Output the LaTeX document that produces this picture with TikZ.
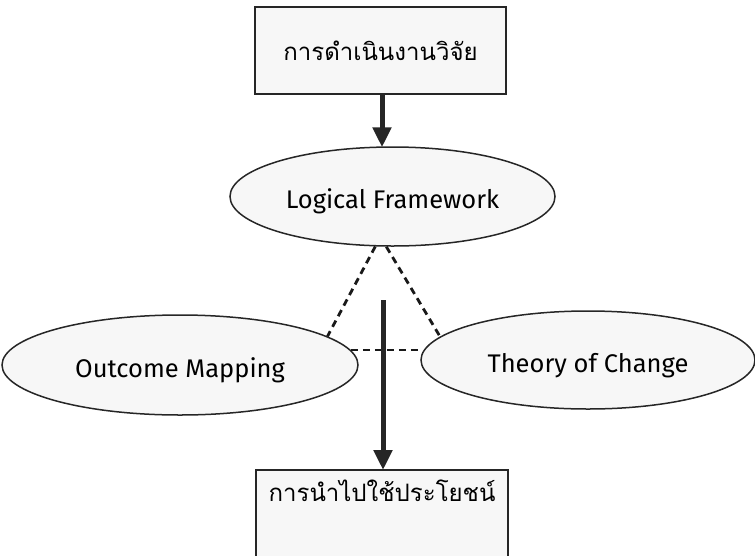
\documentclass[tikz,border=0pt]{standalone}
\usepackage{fontspec}
\setmainfont{Fira Sans}
\newfontfamily\thaifont[Script=Thai]{Loma}
\usetikzlibrary{shapes.geometric,arrows.meta}
\tikzset{
  thaibox/.style={draw=black!85, line width=1.6pt, fill=black!3, font=\thaifont\fontsize{24}{28}\selectfont, inner sep=0pt},
  oval/.style={ellipse, draw=black!85, line width=1.5pt, fill=black!3, font=\fontsize{25.5}{30}\selectfont, inner sep=0pt, text height=24pt, text depth=0pt},
  bigarrow/.style={line width=5pt, draw=black!85, -{Triangle[width=18pt,length=20pt]}, shorten >=-1pt},
  link/.style={line width=2.8pt, draw=black!90, dash pattern=on 7pt off 5pt}
}
\begin{document}
\begin{tikzpicture}[x=1pt,y=-1pt]
\useasboundingbox (0,0) rectangle (755,555);
\node[thaibox, minimum width=251pt, minimum height=87pt] (top) at (380.5,50.5) {การดำเนินงานวิจัย};
\node[oval, minimum width=325pt, minimum height=99pt] (lf) at (392.5,196.5) {Logical Framework};
\node[oval, minimum width=356pt, minimum height=100pt] (om) at (180,365) {Outcome Mapping};
\node[oval, minimum width=334pt, minimum height=98pt] (toc) at (588,360) {Theory of Change};
\node[thaibox, minimum width=252pt, anchor=north, text height=21pt, text depth=70pt, inner ysep=11pt] (bot) at (382,469) {การนำไปใช้ประโยชน์};
\coordinate (ax) at (382,0);
\coordinate (a2) at (383,300);
\draw[bigarrow] (top.south -| ax) -- (ax |- lf.north);
\draw[link] (lf.251) -- (om.11.5);
\draw[link] (lf.263) -- (toc.171);
\draw[link] (om.5) -- (om.5 -| toc.west);
\draw[bigarrow] (a2) -- (a2 |- bot.north);
\end{tikzpicture}
\end{document}
